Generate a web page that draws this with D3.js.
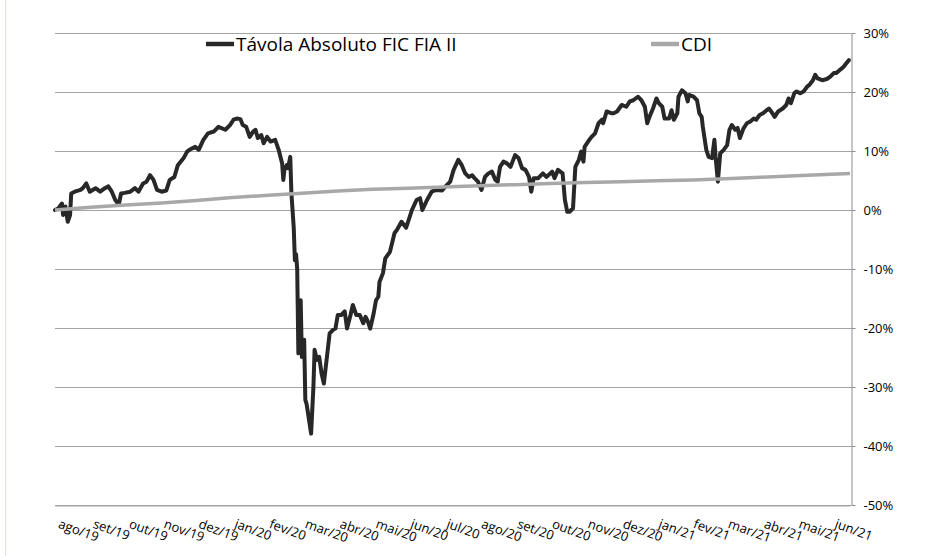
<!DOCTYPE html>
<html>
<head>
<meta charset="utf-8">
<script src="https://cdn.jsdelivr.net/npm/d3@7"></script>
<style>
body { margin: 0; background: #fff; }
text { font-family: "Open Sans", sans-serif; fill: #000; }
</style>
</head>
<body>
<div id="chart"></div>
<script>
// series names (legend)
var seriesNames = ["Távola Absoluto FIC FIA II", "CDI"];

// fund, cumulative return in %
var fundDates = [
    "2019-08-14","2019-08-17","2019-08-20","2019-08-21","2019-08-23","2019-08-25","2019-08-27","2019-08-28","2019-08-31",
    "2019-09-05","2019-09-07","2019-09-10","2019-09-13","2019-09-18","2019-09-22","2019-09-26","2019-09-29",
    "2019-10-02","2019-10-05","2019-10-08","2019-10-10","2019-10-13","2019-10-18","2019-10-22","2019-10-25","2019-10-29",
    "2019-11-01","2019-11-04","2019-11-07","2019-11-10","2019-11-14","2019-11-18","2019-11-21","2019-11-25","2019-11-28",
    "2019-12-03","2019-12-06","2019-12-08","2019-12-13","2019-12-16","2019-12-20","2019-12-24","2019-12-29",
    "2020-01-02","2020-01-08","2020-01-12","2020-01-15","2020-01-18","2020-01-21","2020-01-23","2020-01-26","2020-01-29",
    "2020-02-01","2020-02-03","2020-02-05","2020-02-08","2020-02-10","2020-02-13","2020-02-16","2020-02-20","2020-02-23",
    "2020-02-26","2020-02-27","2020-02-28",
    "2020-03-01","2020-03-02","2020-03-04","2020-03-05","2020-03-07","2020-03-08","2020-03-09","2020-03-10","2020-03-11",
    "2020-03-12","2020-03-13","2020-03-14","2020-03-15","2020-03-16","2020-03-17","2020-03-18","2020-03-19","2020-03-22",
    "2020-03-24","2020-03-25","2020-03-27","2020-03-29","2020-03-31",
    "2020-04-02","2020-04-05","2020-04-07","2020-04-10","2020-04-12","2020-04-14","2020-04-17","2020-04-20","2020-04-22",
    "2020-04-25","2020-04-27","2020-04-30",
    "2020-05-03","2020-05-06","2020-05-08","2020-05-10","2020-05-12","2020-05-15","2020-05-17","2020-05-19","2020-05-20",
    "2020-05-23","2020-05-25","2020-05-29",
    "2020-06-02","2020-06-04","2020-06-08","2020-06-12","2020-06-17","2020-06-21","2020-06-24","2020-06-26","2020-06-30",
    "2020-07-04","2020-07-08","2020-07-13","2020-07-16","2020-07-20","2020-07-23","2020-07-27","2020-07-30",
    "2020-08-02","2020-08-05","2020-08-08","2020-08-10","2020-08-13","2020-08-16","2020-08-19","2020-08-22","2020-08-25",
    "2020-08-28","2020-08-30",
    "2020-09-01","2020-09-04","2020-09-07","2020-09-10","2020-09-14","2020-09-17","2020-09-20","2020-09-23","2020-09-26",
    "2020-09-28","2020-09-30",
    "2020-10-04","2020-10-08","2020-10-11","2020-10-16","2020-10-18","2020-10-21","2020-10-25","2020-10-27","2020-10-29",
    "2020-10-31",
    "2020-11-03","2020-11-05","2020-11-08","2020-11-10","2020-11-12","2020-11-13","2020-11-16","2020-11-19","2020-11-22",
    "2020-11-25","2020-11-28","2020-11-29",
    "2020-12-02","2020-12-06","2020-12-08","2020-12-11","2020-12-15","2020-12-19","2020-12-22","2020-12-25","2020-12-29",
    "2021-01-01","2021-01-04","2021-01-06","2021-01-08","2021-01-11","2021-01-14","2021-01-16","2021-01-19","2021-01-21",
    "2021-01-25","2021-01-27","2021-01-29",
    "2021-02-01","2021-02-02","2021-02-05","2021-02-08","2021-02-10","2021-02-11","2021-02-15","2021-02-18","2021-02-20",
    "2021-02-22","2021-02-23","2021-02-26","2021-02-28",
    "2021-03-03","2021-03-05","2021-03-06","2021-03-08","2021-03-10","2021-03-13","2021-03-16","2021-03-18","2021-03-20",
    "2021-03-23","2021-03-25","2021-03-27","2021-03-30",
    "2021-04-02","2021-04-05","2021-04-08","2021-04-10","2021-04-13","2021-04-16","2021-04-19","2021-04-21","2021-04-23",
    "2021-04-26","2021-04-29",
    "2021-05-03","2021-05-06","2021-05-08","2021-05-10","2021-05-13","2021-05-15","2021-05-18","2021-05-21","2021-05-24",
    "2021-05-26","2021-05-29","2021-05-31",
    "2021-06-02","2021-06-06","2021-06-10","2021-06-13","2021-06-16","2021-06-18","2021-06-21","2021-06-23","2021-06-25",
    "2021-06-27","2021-06-29"
];
var fundValues = [
    0.0, 0.3, 1.1, -0.85, 0.6, -2.0, -0.85, 2.8, 3.1,
    3.4, 3.7, 4.5, 3.1, 3.7, 3.1, 3.7, 4.0,
    3.1, 1.7, 0.85, 2.8, 2.9, 3.1, 3.7, 3.1, 4.5,
    4.8, 5.9, 5.1, 3.4, 3.1, 3.3, 5.1, 5.6, 7.6,
    8.8, 9.9, 10.2, 10.7, 10.2, 11.9, 13.0, 13.3,
    14.1, 13.6, 14.4, 15.3, 15.5, 15.4, 14.4, 14.1, 12.4,
    13.3, 13.6, 12.2, 12.7, 11.3, 12.4, 11.6, 11.9, 10.2,
    7.9, 5.1, 6.8,
    7.6, 7.1, 9.0, 2.8, -3.0, -8.5, -7.5, -10.0, -24.3,
    -22.0, -15.3, -24.9, -24.0, -22.0, -32.2, -32.8, -34.0, -37.9,
    -29.9, -23.7, -25.4, -24.9, -27.7,
    -29.4, -24.3, -20.9, -20.3, -20.1, -17.8, -17.8, -17.2, -20.1,
    -17.8, -16.1, -17.8,
    -17.8, -19.2, -18.1, -18.9, -20.1, -17.5, -15.3, -14.7, -12.2,
    -10.7, -8.2, -7.1,
    -3.9, -3.4, -2.0, -3.0, 0.0, 1.7, 2.0, 0.0, 1.7,
    3.1, 3.4, 3.3, 4.0, 4.8, 6.8, 8.5, 7.6,
    6.2, 5.6, 5.9, 5.4, 4.8, 3.4, 5.6, 6.2, 6.5,
    5.1, 4.8,
    7.3, 8.2, 7.9, 7.3, 9.3, 8.8, 7.1, 6.8, 5.6,
    3.1, 5.4,
    5.4, 6.2, 5.6, 6.5, 5.4, 6.8, 6.2, 1.7, -0.3,
    -0.3,
    0.3, 7.3, 8.5, 9.9, 8.2, 10.7, 11.6, 12.4, 13.0,
    14.7, 15.3, 14.7,
    16.7, 16.4, 16.4, 16.7, 17.8, 17.5, 18.4, 18.6, 19.2,
    18.6, 17.5, 14.7, 15.8, 17.2, 18.9, 18.1, 17.5, 15.5,
    15.5, 16.9, 15.3,
    16.4, 19.2, 20.3, 19.8, 18.4, 19.5, 19.2, 18.6, 16.4,
    15.8, 14.1, 10.2, 9.0,
    8.8, 11.9, 9.0, 4.8, 9.6, 10.2, 11.0, 13.6, 14.4,
    13.6, 13.9, 12.2, 13.8,
    14.7, 15.0, 15.5, 15.3, 16.1, 16.4, 16.9, 17.2, 16.7,
    15.8, 16.7,
    17.2, 17.8, 18.9, 18.1, 19.8, 20.1, 19.8, 20.1, 20.9,
    21.2, 22.0, 22.9,
    22.3, 22.0, 22.2, 22.6, 23.2, 23.2, 23.7, 24.0, 24.4,
    24.9, 25.4
];

// CDI, cumulative %
var cdiDates = [
    "2019-08-14","2019-09-14","2019-10-14","2019-11-14","2019-12-14","2020-01-14","2020-02-14","2020-03-14",
    "2020-04-14","2020-05-14","2020-06-14","2020-07-14","2020-08-14","2020-09-14","2020-10-14","2020-11-14",
    "2020-12-14","2021-01-14","2021-02-14","2021-03-14","2021-04-14","2021-05-14","2021-06-14","2021-06-30"
];
var cdiValues = [0.0, 0.45, 0.85, 1.2, 1.6, 2.1, 2.5, 2.85, 3.2, 3.5, 3.7, 3.9, 4.1, 4.3, 4.5, 4.65,
    4.8, 4.95, 5.1, 5.3, 5.55, 5.8, 6.05, 6.2];

// category labels along the bottom
var tickDates = [
    "2019-08-14","2019-09-13","2019-10-14","2019-11-13","2019-12-13","2020-01-13","2020-02-12","2020-03-14",
    "2020-04-13","2020-05-14","2020-06-13","2020-07-14","2020-08-13","2020-09-13","2020-10-13","2020-11-13",
    "2020-12-13","2021-01-13","2021-02-12","2021-03-14","2021-04-14","2021-05-14","2021-06-14"
];
var tickLabels = ["ago/19","set/19","out/19","nov/19","dez/19","jan/20","fev/20","mar/20","abr/20","mai/20",
    "jun/20","jul/20","ago/20","set/20","out/20","nov/20","dez/20","jan/21","fev/21","mar/21","abr/21",
    "mai/21","jun/21"];

var yTicks = [30, 20, 10, 0, -10, -20, -30, -40, -50];

var width = 937,
    height = 556,
    plot = {left: 55, right: 851, top: 33, bottom: 505};

var parse = d3.timeParse("%Y-%m-%d");

var svg = d3.select("#chart")
    .append("svg")
    .attr("width", width)
    .attr("height", height);

svg.append("rect")
    .attr("width", width)
    .attr("height", height)
    .attr("fill", "#fff");

// faint frame line on the left
svg.append("line")
    .attr("x1", 5.5).attr("x2", 5.5)
    .attr("y1", 0).attr("y2", height)
    .attr("stroke", "#e4e1d6");

var x = d3.scaleTime()
    .domain([parse("2019-08-14"), parse("2021-06-30")])
    .range([plot.left, plot.right - 1]);

var y = d3.scaleLinear()
    .domain([-50, 30])
    .range([plot.bottom, plot.top]);

// horizontal gridlines
svg.append("g")
    .selectAll("line")
    .data(yTicks)
    .enter().append("line")
    .attr("x1", plot.left)
    .attr("x2", plot.right)
    .attr("y1", function(d) { return Math.round(y(d)) + 0.5; })
    .attr("y2", function(d) { return Math.round(y(d)) + 0.5; })
    .attr("stroke", "#a3a3a3")
    .attr("stroke-width", 1);

// right value axis
var yAxis = svg.append("g")
    .attr("transform", "translate(" + (plot.right + 0.5) + ",0)")
    .call(d3.axisRight(y)
        .tickValues(yTicks)
        .tickSize(4)
        .tickSizeOuter(0)
        .tickPadding(8)
        .tickFormat(function(d) { return d + "%"; }));
yAxis.select(".domain").attr("stroke", "#8c8c8c");
yAxis.selectAll(".tick line").attr("stroke", "#8c8c8c");
yAxis.selectAll("text")
    .style("font-family", "'Open Sans', sans-serif")
    .style("font-size", "13px")
    .attr("fill", "#000");

// bottom category axis
var xAxis = svg.append("g")
    .attr("transform", "translate(0," + (plot.bottom + 0.5) + ")")
    .call(d3.axisBottom(x)
        .tickValues(tickDates.map(parse))
        .tickSize(0)
        .tickSizeOuter(0)
        .tickFormat(function(d, i) { return tickLabels[i]; }));
xAxis.select(".domain").attr("stroke", "#a3a3a3");
xAxis.selectAll("text")
    .attr("x", 0)
    .attr("y", 0)
    .attr("dy", 0)
    .attr("text-anchor", "start")
    .attr("transform", "translate(2,22) rotate(20)")
    .style("font-family", "'Open Sans', sans-serif")
    .style("font-size", "13px")
    .attr("fill", "#000");

var line = d3.line()
    .x(function(d) { return x(d.date); })
    .y(function(d) { return y(d.value); });

var fund = fundDates.map(function(d, i) { return {date: parse(d), value: fundValues[i]}; });
var cdi = cdiDates.map(function(d, i) { return {date: parse(d), value: cdiValues[i]}; });

svg.append("path")
    .datum(fund)
    .attr("fill", "none")
    .attr("stroke", "#282828")
    .attr("stroke-width", 4)
    .attr("stroke-linejoin", "round")
    .attr("stroke-linecap", "round")
    .attr("d", line);

svg.append("path")
    .datum(cdi)
    .attr("fill", "none")
    .attr("stroke", "#a8a8a8")
    .attr("stroke-width", 3.5)
    .attr("stroke-linejoin", "round")
    .attr("d", line);

// legend
var legendItems = [
    {name: seriesNames[0], color: "#282828", x: 206},
    {name: seriesNames[1], color: "#a8a8a8", x: 651}
];
var legend = svg.append("g").selectAll("g")
    .data(legendItems)
    .enter().append("g")
    .attr("transform", function(d) { return "translate(" + d.x + ",44)"; });
legend.append("line")
    .attr("x1", 0).attr("x2", 28)
    .attr("stroke", function(d) { return d.color; })
    .attr("stroke-width", 4.5);
legend.append("text")
    .attr("x", 30)
    .attr("y", 7)
    .style("font-size", "19px")
    .text(function(d) { return d.name; });
</script>
</body>
</html>
